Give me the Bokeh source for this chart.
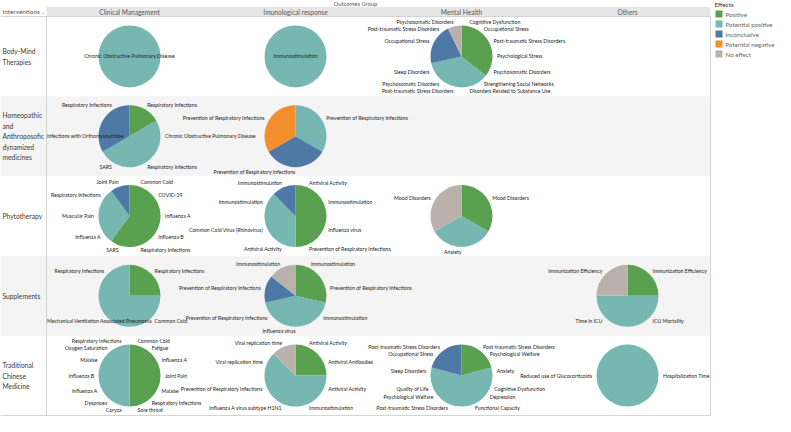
import math
from bokeh.plotting import figure
from bokeh.models import Range1d
from bokeh.embed import file_html
from bokeh.resources import INLINE
from bokeh.core.properties import value

# ---------------- data ----------------
outcome_groups = ["Clinical Management", "Imunological response", "Mental Health", "Others"]
interventions = ["Body-Mind\nTherapies",
                 "Homeopathic\nand\nAnthroposofic\ndynamized\nmedicines",
                 "Phytotherapy", "Supplements",
                 "Traditional\nChinese\nMedicine"]
effects = ["Positive", "Potential positive", "Inconclusive", "Potential negative", "No effect"]
effect_codes = ["P", "PP", "I", "PN", "N"]
effect_colors = ["#59A14F", "#76B7B2", "#4E79A7", "#F28E2B", "#BAB0AC"]

# each pie: outcomes clockwise from 12 o'clock ("" = label hidden) and their effect codes
bodymind_clinical = ["Chronic Obstructive Pulmonary Disease"]
bodymind_clinical_eff = ["PP"]
bodymind_immuno = ["Immunostimulation"]
bodymind_immuno_eff = ["PP"]
bodymind_mental = ["Cognitive Dysfunction", "Occupational Stress", "Post-traumatic Stress Disorders",
                   "Psychological Stress", "Psychosomatic Disorders",
                   "Strengthening Social Networks", "Disorders Related to Substance Use",
                   "Post-traumatic Stress Disorders", "Psychosomatic Disorders", "Sleep Disorders",
                   "", "Occupational Stress", "Post-traumatic Stress Disorders",
                   "Psychosomatic Disorders"]
bodymind_mental_eff = ["P"] * 5 + ["PP"] * 5 + ["I"] * 3 + ["N"]

homeo_clinical = ["Respiratory Infections", "Chronic Obstructive Pulmonary Disease",
                  "Respiratory Infections", "SARS", "Infections with Orthomyxoviridae",
                  "Respiratory Infections"]
homeo_clinical_eff = ["P", "PP", "PP", "PP", "I", "I"]
homeo_immuno = ["Prevention of Respiratory Infections"] * 3
homeo_immuno_eff = ["PP", "I", "PN"]

phyto_clinical = ["Common Cold", "COVID-19", "Influenza A", "Influenza B", "Respiratory Infections",
                  "SARS", "Influenza A", "Muscular Pain", "Respiratory Infections", "Joint Pain"]
phyto_clinical_eff = ["P"] * 6 + ["PP"] * 3 + ["I"]
phyto_immuno = ["Antiviral Activity", "Immunostimulation", "Influenza virus",
                "Prevention of Respiratory Infections", "Antiviral Activity",
                "Common Cold Virus (Rhinovirus)", "Immunostimulation", "Immunostimulation"]
phyto_immuno_eff = ["P"] * 4 + ["PP"] * 3 + ["I"]
phyto_mental = ["Mood Disorders", "Anxiety", "Mood Disorders"]
phyto_mental_eff = ["P", "PP", "N"]

suppl_clinical = ["Respiratory Infections", "Common Cold",
                  "Mechanical Ventilation Associated Pneumonia", "Respiratory Infections"]
suppl_clinical_eff = ["P", "PP", "PP", "PP"]
suppl_immuno = ["Immunostimulation", "Prevention of Respiratory Infections", "Immunostimulation",
                "Influenza virus", "Prevention of Respiratory Infections",
                "Prevention of Respiratory Infections", "Immunostimulation"]
suppl_immuno_eff = ["P", "P", "PP", "PP", "PP", "I", "N"]
suppl_others = ["Immunization Efficiency", "ICU Mortality", "Time in ICU", "Immunization Efficiency"]
suppl_others_eff = ["P", "PP", "PP", "N"]

tcm_clinical = ["Common Cold", "Fatigue", "Influenza A", "Joint Pain", "Malaise",
                "Respiratory Infections", "Sore throat",
                "Coryza", "Dyspnoea", "Influenza A", "Influenza B", "Malaise",
                "Oxygen Saturation", "Respiratory Infections"]
tcm_clinical_eff = ["P"] * 7 + ["PP"] * 7
tcm_immuno = ["Antiviral Activity", "Antiviral Antibodies", "Antiviral Activity", "Immunostimulation",
              "Influenza A virus subtype H1N1", "Prevention of Respiratory Infections",
              "Viral replication time", "Viral replication time"]
tcm_immuno_eff = ["P", "P", "PP", "PP", "PP", "PP", "PP", "N"]
tcm_mental = ["", "", "Post-traumatic Stress Disorders", "Psychological Welfare", "",
              "Anxiety", "", "Cognitive Dysfunction", "Depression", "", "Functional Capacity", "", "",
              "Post-traumatic Stress Disorders", "", "Psychological Welfare", "Quality of Life", "",
              "Sleep Disorders",
              "", "Occupational Stress", "Post-traumatic Stress Disorders", "", ""]
tcm_mental_eff = ["P"] * 5 + ["PP"] * 14 + ["I"] * 5
tcm_others = ["Hospitalization Time", "Reduced use of Glucocorticoids"]
tcm_others_eff = ["PP", "PP"]

pies = [
    (0, 0, bodymind_clinical, bodymind_clinical_eff),
    (0, 1, bodymind_immuno, bodymind_immuno_eff),
    (0, 2, bodymind_mental, bodymind_mental_eff),
    (1, 0, homeo_clinical, homeo_clinical_eff),
    (1, 1, homeo_immuno, homeo_immuno_eff),
    (2, 0, phyto_clinical, phyto_clinical_eff),
    (2, 1, phyto_immuno, phyto_immuno_eff),
    (2, 2, phyto_mental, phyto_mental_eff),
    (3, 0, suppl_clinical, suppl_clinical_eff),
    (3, 1, suppl_immuno, suppl_immuno_eff),
    (3, 3, suppl_others, suppl_others_eff),
    (4, 0, tcm_clinical, tcm_clinical_eff),
    (4, 1, tcm_immuno, tcm_immuno_eff),
    (4, 2, tcm_mental, tcm_mental_eff),
    (4, 3, tcm_others, tcm_others_eff),
]

# ---------------- layout ----------------
W, H = 775, 416
ROWHDR = 46.0     # px of row-header column
COLW = 166.0      # px per outcome-group column
TOP = 16.0        # px where the first row starts
ROWH = 79.8       # px per intervention row
R = 31            # pie radius (px)
RL = R + 4.5      # label radius (px)
LFS = 5.2         # label font size (px)
FONT = "Lato"

x0 = -ROWHDR / COLW
y_top = len(interventions) + TOP / ROWH
ncols = len(outcome_groups)
nrows = len(interventions)


def fx(px):
    return x0 + px / COLW


def fy(py):
    return y_top - py / ROWH


p = figure(width=W, height=H, output_backend="svg", toolbar_location=None,
           x_range=Range1d(x0, x0 + W / COLW), y_range=Range1d(y_top - H / ROWH, y_top),
           x_axis_location=None, y_axis_location=None, min_border=0,
           background_fill_color="white", border_fill_color="white")
p.outline_line_color = None
p.grid.visible = False

# row banding
band_rows = [i for i in range(nrows) if i % 2 == 1]
p.quad(left=[x0] * len(band_rows), right=[ncols] * len(band_rows),
       top=[nrows - i for i in band_rows], bottom=[nrows - i - 1 for i in band_rows],
       fill_color="#f4f4f4", line_color=None)
# header band
p.quad(left=[0], right=[ncols], top=[fy(TOP - 9.5)], bottom=[nrows],
       fill_color="#e6e6e6", line_color=None)
# dividers
p.segment(x0=[0, ncols, x0, x0], y0=[0, 0, 0, nrows], x1=[0, ncols, ncols, ncols],
          y1=[nrows, nrows, 0, nrows], line_color="#d4d4d4", line_width=1)

# headers
p.text(x=[(x0 + ncols) / 2], y=[fy(3.2)], text=["Outcomes Group"], text_align="center",
       text_baseline="middle", text_font=value(FONT), text_font_size=value("5.8px"),
       text_color="#555555")
p.text(x=[i + 0.5 for i in range(ncols)], y=[fy(TOP - 4.7)] * ncols, text=outcome_groups,
       text_align="center", text_baseline="middle", text_font=value(FONT),
       text_font_size=value("6.6px"), text_color="#555555")
p.text(x=[fx(2)], y=[fy(TOP - 4.7)], text=["Interventions .."], text_align="left",
       text_baseline="middle", text_font=value(FONT), text_font_size=value("6.4px"),
       text_color="#555555")
p.text(x=[fx(2)] * nrows, y=[nrows - i - 0.5 for i in range(nrows)], text=interventions,
       text_align="left", text_baseline="middle", text_font=value(FONT),
       text_font_size=value("6.7px"), text_color="#3a3a3a", text_line_height=1.3)

# pies
wx, wy, ws, we, wc = [], [], [], [], []
cx_, cy_, cc_ = [], [], []
lab = {"left": ([], [], []), "right": ([], [], []), "center": ([], [], [])}
for (ri, ci, outs, effs) in pies:
    n = len(outs)
    cx = ci + 0.5
    cy = nrows - ri - 0.5
    k = 0
    while k < n:
        k1 = k
        while k1 < n and effs[k1] == effs[k]:
            k1 += 1
        col = effect_colors[effect_codes.index(effs[k])]
        t0 = 360.0 * k / n
        t1 = 360.0 * k1 / n
        if t1 - t0 >= 359.999:
            cx_.append(cx); cy_.append(cy); cc_.append(col)
        else:
            wx.append(cx); wy.append(cy); wc.append(col)
            ws.append(math.radians(90 - t1)); we.append(math.radians(90 - t0))
        k = k1
    for k, name in enumerate(outs):
        if not name:
            continue
        if n == 1:
            lab["center"][0].append(cx); lab["center"][1].append(cy); lab["center"][2].append(name)
            continue
        th = math.radians(360.0 * (k + 0.5) / n)
        s, c = math.sin(th), math.cos(th)
        lx = cx + RL * s / COLW
        ly = cy + RL * c / ROWH
        if s > 1e-9:
            al = "left"
        else:
            al = "right"
            wpx = len(name) * 0.43 * LFS
            if lx - wpx / COLW < 0:
                al = "left"
                lx = 0.6 / COLW
        lab[al][0].append(lx); lab[al][1].append(ly); lab[al][2].append(name)

p.wedge(x=wx, y=wy, radius=R, radius_units="screen", start_angle=ws, end_angle=we,
        direction="anticlock", fill_color=wc, line_color=None)
p.circle(x=cx_, y=cy_, radius=R, radius_units="screen", fill_color=cc_, line_color=None)

for al, (xs, ys, ts) in lab.items():
    if xs:
        p.text(x=xs, y=ys, text=ts, text_align=al, text_baseline="middle",
               text_font=value(FONT), text_font_size=value("%.1fpx" % LFS), text_color="#222222")

# legend
p.text(x=[fx(714)], y=[fy(3.5)], text=["Effects"], text_align="left", text_baseline="middle",
       text_font=value(FONT), text_font_size=value("6.4px"), text_color="#333333")
ly_leg = [fy(13.5 + 10 * k) for k in range(len(effects))]
p.scatter(x=[fx(718.5)] * len(effects), y=ly_leg, marker="square", size=7,
          fill_color=effect_colors, line_color=None)
p.text(x=[fx(725)] * len(effects), y=ly_leg, text=effects, text_align="left",
       text_baseline="middle", text_font=value(FONT), text_font_size=value("6.2px"),
       text_color="#666666")

open("out.html", "w").write(file_html(p, INLINE))
